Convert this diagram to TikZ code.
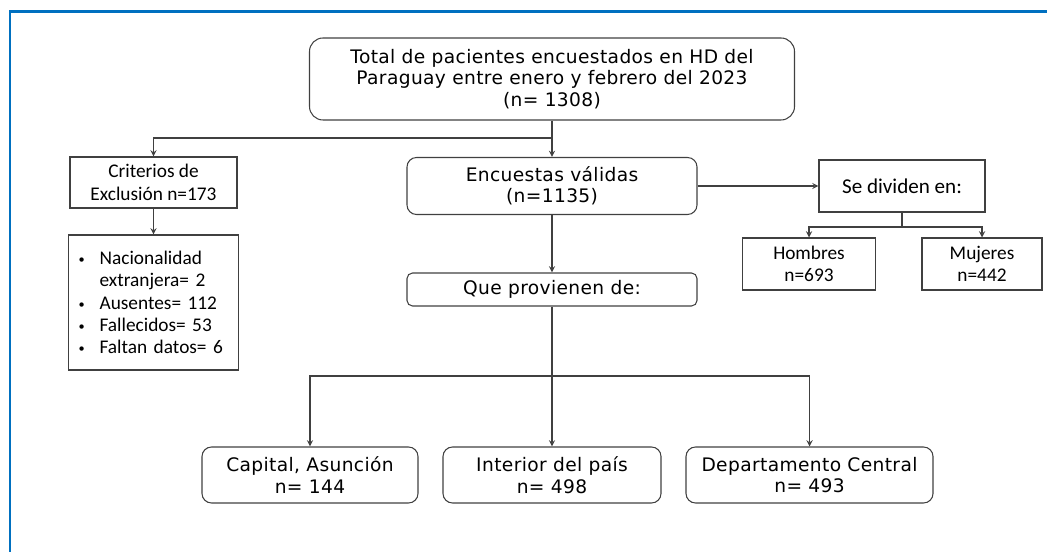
\documentclass[tikz,border=0pt]{standalone}
\usepackage{fontspec}
\setmainfont{Carlito}
\newfontfamily\verdanafont[LetterSpace=2]{DejaVu Sans}
\definecolor{framebl}{RGB}{0,112,192}
\definecolor{lineg}{RGB}{64,64,64}
\newcommand{\listdot}{\makebox[12pt][l]{\raisebox{0.1ex}{\scriptsize\textbullet}}}

\begin{document}
\begin{tikzpicture}[->,>=stealth,line width=0.6pt,color=lineg]
    \tikzstyle{roundbox}=[draw,rounded corners=0.19cm,align=center,inner sep=0pt,text=black,font=\verdanafont\fontsize{10.6}{12.2}\selectfont]
    \tikzstyle{sqbox}=[draw,align=center,inner sep=0pt,text=black,font=\fontsize{11}{12.8}\selectfont]

    \useasboundingbox (0,0) rectangle (20.94,-11.04);
    \draw[-,framebl,line width=1.7pt] (0.2,-11.04) -- (0.2,-0.24) -- (20.94,-0.24);

    % Boxes
    \node[roundbox,rounded corners=0.27cm,minimum width=9.7cm,minimum height=1.64cm] (total) at (11.04,-1.58)
        {Total de pacientes encuestados en HD del\\Paraguay entre enero y febrero del 2023\\(n= 1308)};
    \node[sqbox,minimum width=3.34cm,minimum height=1.02cm] (criterios) at (3.07,-3.65) {Criterios de\\Exclusión n=173};
    \node[sqbox,font=\fontsize{11}{12.6}\selectfont,minimum width=3.4cm,minimum height=2.7cm,
          text width=3.0cm,inner xsep=0.2cm,align=left] (lista) at (3.07,-6.05)
        {\listdot Nacionalidad\\\hspace*{12pt}extranjera= 2\\
         \listdot Ausentes= 112\\
         \listdot Fallecidos= 53\\
         \listdot Faltan datos= 6};
    \node[roundbox,minimum width=5.8cm,minimum height=1.14cm] (validas) at (11.04,-3.72) {Encuestas válidas\\(n=1135)};
    \node[sqbox,font=\fontsize{12}{14}\selectfont,minimum width=3.32cm,minimum height=1.04cm] (dividen) at (18.04,-3.72) {Se dividen en:};
    \node[sqbox,minimum width=2.66cm,minimum height=1.04cm] (hombres) at (16.18,-5.28) {Hombres\\n=693};
    \node[sqbox,minimum width=2.4cm,minimum height=1.04cm] (mujeres) at (19.64,-5.28) {Mujeres\\n=442};
    \node[roundbox,rounded corners=0.11cm,minimum width=5.8cm,minimum height=0.66cm] (que) at (11.04,-5.79) {Que provienen de:};
    \node[roundbox,minimum width=4.32cm,minimum height=1.12cm] (capital) at (6.2,-9.5) {Capital, Asunción\\n= 144};
    \node[roundbox,minimum width=4.36cm,minimum height=1.12cm] (interior) at (11.04,-9.5) {Interior del país\\n= 498};
    \node[roundbox,minimum width=4.94cm,minimum height=1.12cm] (central) at (16.19,-9.5) {Departamento Central\\n= 493};

    % Arrows
    \coordinate (split1) at (11.04,-2.76);
    \coordinate (split2) at (18.04,-4.54);
    \coordinate (split3) at (11.04,-7.52);
    \path
        (total) edge (validas)
        (criterios) edge (lista)
        (validas) edge (dividen)
        (validas) edge (que)
        (que) edge (interior)
        ;
    \draw (split1) -| (criterios);
    \draw[-] (dividen) -- (split2);
    \draw (split2) -| (hombres);
    \draw (split2) -| (mujeres);
    \draw (split3) -| (capital);
    \draw (split3) -| (central);
\end{tikzpicture}
\end{document}
